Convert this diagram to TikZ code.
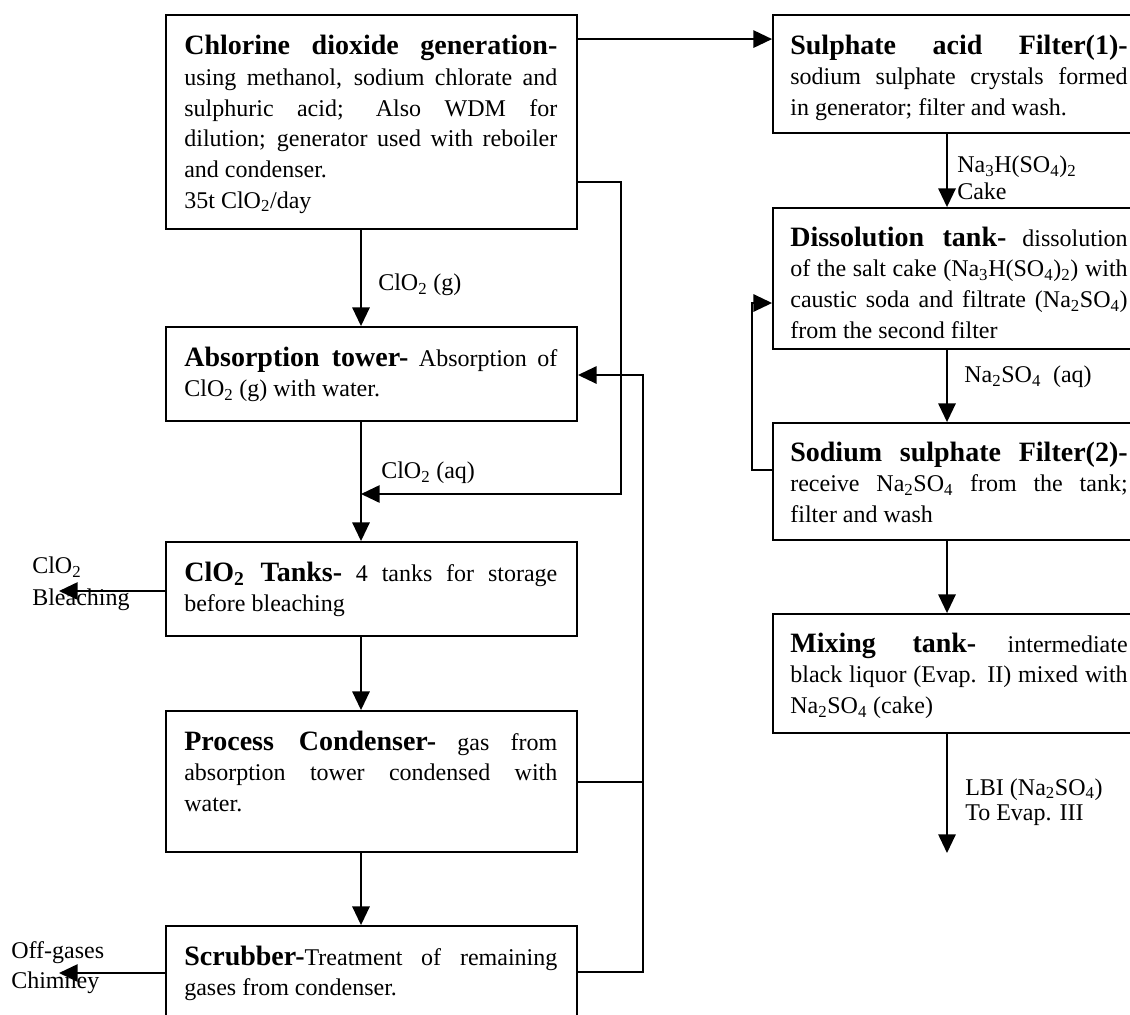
\documentclass[tikz,border=0pt]{standalone}
\usepackage{fontspec}
\setmainfont{Liberation Serif}
\usetikzlibrary{arrows.meta,fit}

% allow widely stretched justified lines without complaints
\tolerance=9999
\hbadness=10000

% bold heading of a process box
\newcommand\hd[1]{{\fontsize{21}{23}\selectfont\bfseries #1}}
% chemical subscript in the text font
\newcommand\sbs[1]{\textsubscript{#1}}

\begin{document}
\begin{tikzpicture}[x=0.75pt,y=-0.75pt,
  box/.style={draw, line width=1.4pt, inner sep=0pt},
  txt/.style={anchor=north west, inner sep=0pt, align=justify,
    font=\fontsize{18}{23}\selectfont},
  ltxt/.style={txt, text width=279.75pt},
  rtxt/.style={txt, text width=253pt},
  lab/.style={inner sep=0pt, anchor=west, align=left},
  flow/.style={line width=1.4pt, -{Triangle[length=14pt,width=13pt]}},
  pipe/.style={line width=1.4pt}]

\useasboundingbox (0,0) rectangle (1130,1014);
\clip (0,0) rectangle (1130,1014);

% ---- process boxes: chlorine dioxide line (left) ----
\node[box, fit={(166,15)(577,229)}]  (gen)   {};
\node[box, fit={(166,327)(577,421)}] (abs)   {};
\node[box, fit={(166,542)(577,636)}] (tank)  {};
\node[box, fit={(166,711)(577,852)}] (cond)  {};
\node[box, fit={(166,926)(577,1030)}] (scrub) {};

% ---- process boxes: sodium sulphate line (right) ----
\node[box, fit={(773,15)(1145,133)}]  (filt1) {};
\node[box, fit={(773,208)(1145,349)}] (diss)  {};
\node[box, fit={(773,423)(1145,540)}] (filt2) {};
\node[box, fit={(773,614)(1145,733)}] (mix)   {};

% ---- box texts ----
\node[ltxt] (genT) at ([shift={(19,19)}]gen.north west)
  {\strut\hd{Chlorine dioxide generation-}\linebreak
   using methanol, sodium chlorate and\linebreak
   sulphuric acid; Also WDM for\linebreak
   dilution; generator used with reboiler\linebreak
   and condenser.\\
   35t ClO\sbs{2}/day};
\node[ltxt] (absT) at ([shift={(19,18.5)}]abs.north west)
  {\strut\hd{Absorption tower-} Absorption of\linebreak
   ClO\sbs{2} (g) with water.};
\node[ltxt] (tankT) at ([shift={(19,18.5)}]tank.north west)
  {\strut\hd{ClO\sbs{2} Tanks-} 4 tanks for storage\linebreak
   before bleaching};
\node[ltxt] (condT) at ([shift={(19,18.5)}]cond.north west)
  {\strut\hd{Process Condenser-} gas from\linebreak
   absorption tower condensed with\linebreak
   water.};
\node[ltxt] (scrubT) at ([shift={(19,18.5)}]scrub.north west)
  {\strut\hd{Scrubber-}Treatment of remaining\linebreak
   gases from condenser.};

\node[rtxt] (filt1T) at ([shift={(18,18.5)}]filt1.north west)
  {\strut\hd{Sulphate acid Filter(1)-}\linebreak
   sodium sulphate crystals formed\linebreak
   in generator; filter and wash.};
\node[rtxt] (dissT) at ([shift={(18,17.5)}]diss.north west)
  {\strut\hd{Dissolution tank-} dissolution\linebreak
   of the salt cake (Na\sbs{3}H(SO\sbs{4})\sbs{2}) with\linebreak
   caustic soda and filtrate (Na\sbs{2}SO\sbs{4})\linebreak
   from the second filter};
\node[rtxt] (filt2T) at ([shift={(18,17.5)}]filt2.north west)
  {\strut\hd{Sodium sulphate Filter(2)-}\linebreak
   receive Na\sbs{2}SO\sbs{4} from the tank;\linebreak
   filter and wash};
\node[rtxt] (mixT) at ([shift={(18,17.5)}]mix.north west)
  {\strut\hd{Mixing tank-} intermediate\linebreak
   black liquor (Evap. II) mixed with\linebreak
   Na\sbs{2}SO\sbs{4} (cake)};

% ---- axes of the two main flows ----
\coordinate (xL) at (361,0);
\coordinate (xR) at (947,0);

% ---- left line connectors ----
\draw[flow] ([shift={(0,25)}]gen.north east) -- ([shift={(0,25)}]filt1.north west);
\draw[flow] (gen.south -| xL) -- (abs.north -| xL);
\coordinate (jA) at (621,494);
\draw[flow] ([shift={(0,168)}]gen.north east) -| (jA) -- (jA -| xL);
\draw[flow] (abs.south -| xL) -- (tank.north -| xL);
\coordinate (bleach) at (59,591);
\draw[flow] (tank.west |- bleach) -- (bleach);
\draw[flow] (tank.south -| xL) -- (cond.north -| xL);
\draw[flow] (cond.south -| xL) -- (scrub.north -| xL);
\coordinate (jB) at (643,375);
\draw[flow] ([shift={(0,47)}]scrub.north east) -| (jB) -- (jB -| abs.east);
\coordinate (cJ) at ([shift={(0,72)}]cond.north east);
\draw[pipe] (cJ) -- (cJ -| jB);
\coordinate (offg) at (59,973);
\draw[flow] (scrub.west |- offg) -- (offg);

% ---- right line connectors ----
\draw[flow] (filt1.south -| xR) -- (diss.north -| xR);
\draw[flow] (diss.south -| xR) -- (filt2.north -| xR);
\coordinate (jC) at (752,303);
\draw[flow] ([shift={(0,48)}]filt2.north west) -| (jC) -- (jC -| diss.west);
\draw[flow] (filt2.south -| xR) -- (mix.north -| xR);
\coordinate (lbiEnd) at (947,853);
\draw[flow] (mix.south -| xR) -- (lbiEnd);

% ---- stream labels ----
\node[lab, font=\fontsize{18}{23}\selectfont] (lg)  at (378,285) {ClO\sbs{2} (g)};
\node[lab, font=\fontsize{18}{23}\selectfont] (laq) at (381,473) {ClO\sbs{2} (aq)};
\node[lab, font=\fontsize{18}{24}\selectfont] (lbl) at (32,584) {ClO\sbs{2}\\Bleaching};
\node[lab, font=\fontsize{18}{22.5}\selectfont] (loff) at (11,968) {Off-gases\\Chimney};
\node[lab, font=\fontsize{18}{20}\selectfont] (lcake) at (957,178) {Na\sbs{3}H(SO\sbs{4})\sbs{2}\\Cake};
\node[lab, font=\fontsize{18}{23}\selectfont] (lna) at (964,377) {Na\sbs{2}SO\sbs{4}\ \ (aq)};
\node[lab, font=\fontsize{18}{19}\selectfont] (llbi) at (965,802) {LBI (Na\sbs{2}SO\sbs{4})\\To Evap. III};

\end{tikzpicture}
\end{document}
